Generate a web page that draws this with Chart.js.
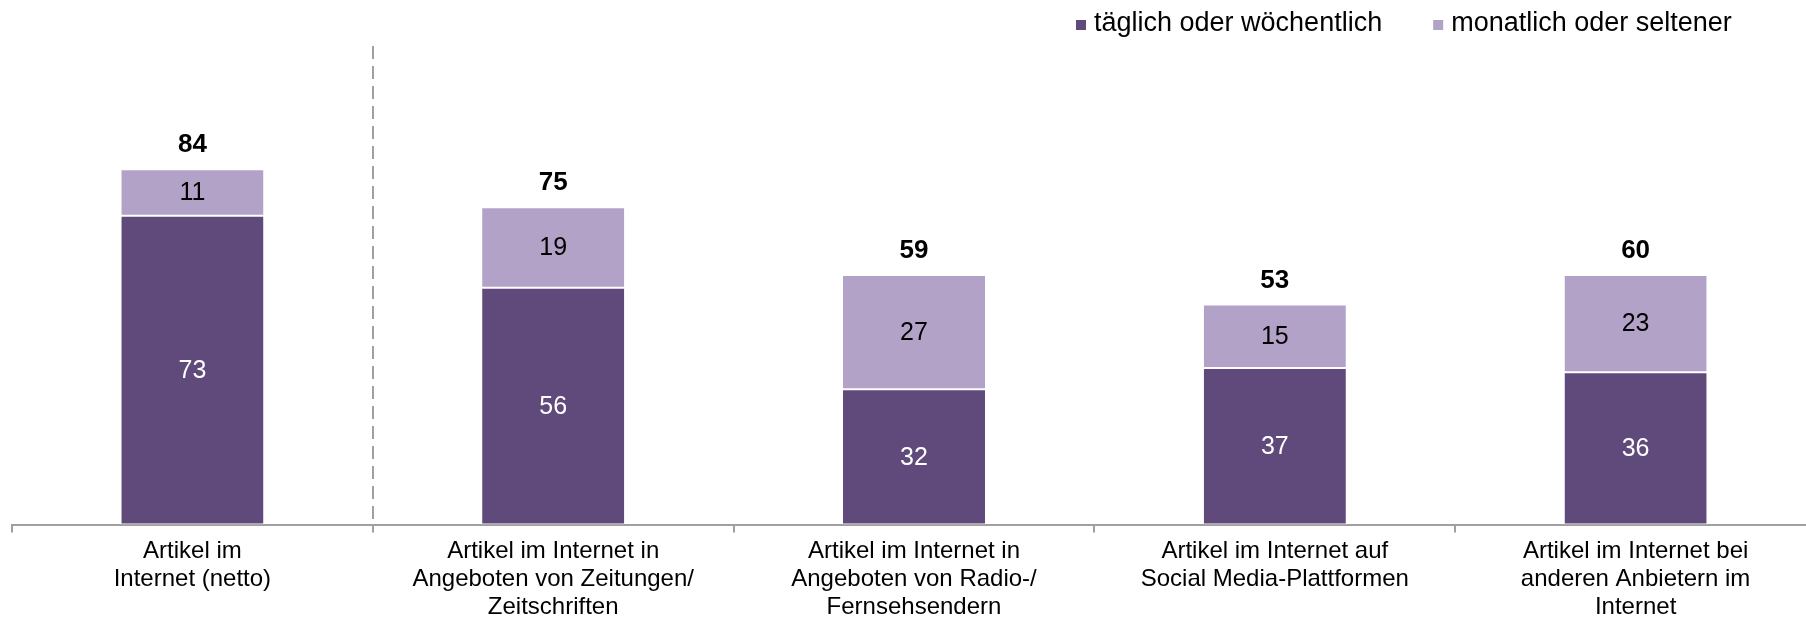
<!DOCTYPE html>
<html lang="de">
<head>
<meta charset="utf-8">
<title>Artikel im Internet</title>
<script src="https://cdn.jsdelivr.net/npm/chart.js@4.4.1/dist/chart.umd.min.js"></script>
<style>
    html, body { margin: 0; padding: 0; background: #fff; overflow: hidden; }
    #chartBox { width: 1816px; height: 617px; }
</style>
</head>
<body>
<div id="chartBox">
    <canvas id="myChart" width="1816" height="617"></canvas>
</div>
<script>
var categoryLabels = [
    ['Artikel im', 'Internet (netto)'],
    ['Artikel im Internet in', 'Angeboten von Zeitungen/', 'Zeitschriften'],
    ['Artikel im Internet in', 'Angeboten von Radio-/', 'Fernsehsendern'],
    ['Artikel im Internet auf', 'Social Media-Plattformen'],
    ['Artikel im Internet bei', 'anderen Anbietern im', 'Internet']
];
var seriesNames = ['täglich oder wöchentlich', 'monatlich oder seltener'];
var dailyWeekly = [73, 56, 32, 37, 36];
var monthlyLess = [11, 19, 27, 15, 23];
var netTotals = [84, 75, 59, 53, 60];

var darkPurple = '#604A7B';
var lightPurple = '#B3A2C7';
var axisGray = '#A0A0A0';
var fontFamily = '"Liberation Sans", Arial, sans-serif';

var myChart = null;

// values written into the bar segments and the bold totals above each stack
var valueLabels = {
    id: 'valueLabels',
    afterDatasetsDraw: function (chart) {
        var c = chart.ctx;
        c.save();
        c.textAlign = 'center';
        c.textBaseline = 'middle';
        c.font = '25px ' + fontFamily;
        chart.data.datasets.forEach(function (ds, di) {
            var meta = chart.getDatasetMeta(di);
            c.fillStyle = di === 0 ? '#FFFFFF' : '#000000';
            meta.data.forEach(function (bar, i) {
                var p = bar.getProps(['x', 'y', 'base'], true);
                c.fillText(String(ds.data[i]), p.x, (p.y + p.base) / 2 + 1);
            });
        });
        // totals sit above the top segment
        var topMeta = chart.getDatasetMeta(chart.data.datasets.length - 1);
        c.font = 'bold 26px ' + fontFamily;
        c.fillStyle = '#000000';
        topMeta.data.forEach(function (bar, i) {
            var p = bar.getProps(['x', 'y'], true);
            c.fillText(String(netTotals[i]), p.x, p.y - 24);
        });
        c.restore();
    }
};

// dashed divider between the net bar and the single sources
var netDivider = {
    id: 'netDivider',
    afterDraw: function (chart) {
        var xs = chart.scales.x;
        var x = Math.round((xs.getPixelForValue(0) + xs.getPixelForValue(1)) / 2);
        var c = chart.ctx;
        c.save();
        c.strokeStyle = axisGray;
        c.lineWidth = 2;
        c.setLineDash([13, 7]);
        c.beginPath();
        c.moveTo(x, chart.chartArea.top + 46);
        c.lineTo(x, chart.chartArea.bottom);
        c.stroke();
        c.restore();
    }
};

// legend drawn by hand so the spacing stays tight
var topLegend = {
    id: 'topLegend',
    afterDraw: function (chart) {
        var c = chart.ctx;
        c.save();
        c.font = '27px ' + fontFamily;
        c.textBaseline = 'alphabetic';
        c.textAlign = 'left';
        var x = 1076;
        chart.data.datasets.forEach(function (ds) {
            c.fillStyle = ds.backgroundColor;
            c.fillRect(x, 20, 10, 10);
            c.fillStyle = '#000000';
            c.fillText(ds.label, x + 18, 31);
            x += 18 + c.measureText(ds.label).width + 51;
        });
        c.restore();
    }
};

function loadChart() {
    if (myChart !== null) {
        myChart.destroy();
    }
    var ctx = document.getElementById('myChart');
    var config = {
        type: 'bar',
        data: {
            labels: categoryLabels,
            datasets: [{
                label: seriesNames[0],
                data: dailyWeekly,
                backgroundColor: darkPurple,
                borderColor: '#FFFFFF',
                borderWidth: { top: 1, bottom: 1, left: 0, right: 0 },
                borderSkipped: false
            }, {
                label: seriesNames[1],
                data: monthlyLess,
                backgroundColor: lightPurple,
                borderColor: '#FFFFFF',
                borderWidth: { top: 1, bottom: 1, left: 0, right: 0 },
                borderSkipped: false
            }]
        },
        options: {
            responsive: false,
            animation: false,
            layout: { padding: { left: 12, right: 0, top: 0, bottom: 0 } },
            datasets: {
                bar: { categoryPercentage: 0.394, barPercentage: 1 }
            },
            plugins: {
                legend: { display: false },
                tooltip: { enabled: false }
            },
            scales: {
                x: {
                    stacked: true,
                    z: 1,
                    grid: {
                        display: true,
                        drawOnChartArea: false,
                        drawTicks: true,
                        tickLength: 8,
                        offset: true,
                        color: axisGray,
                        lineWidth: 2
                    },
                    border: { display: true, color: axisGray, width: 2 },
                    ticks: {
                        color: '#000000',
                        autoSkip: false,
                        maxRotation: 0,
                        padding: 5,
                        font: { family: fontFamily, size: 24, lineHeight: 1.17 }
                    },
                    afterFit: function (scale) {
                        scale.height = 92.5;
                    }
                },
                y: {
                    stacked: true,
                    display: false,
                    min: 0,
                    max: 124
                }
            }
        },
        plugins: [valueLabels, netDivider, topLegend]
    };
    myChart = new Chart(ctx, config);
}

document.addEventListener('DOMContentLoaded', function () {
    loadChart();
});
</script>
</body>
</html>
